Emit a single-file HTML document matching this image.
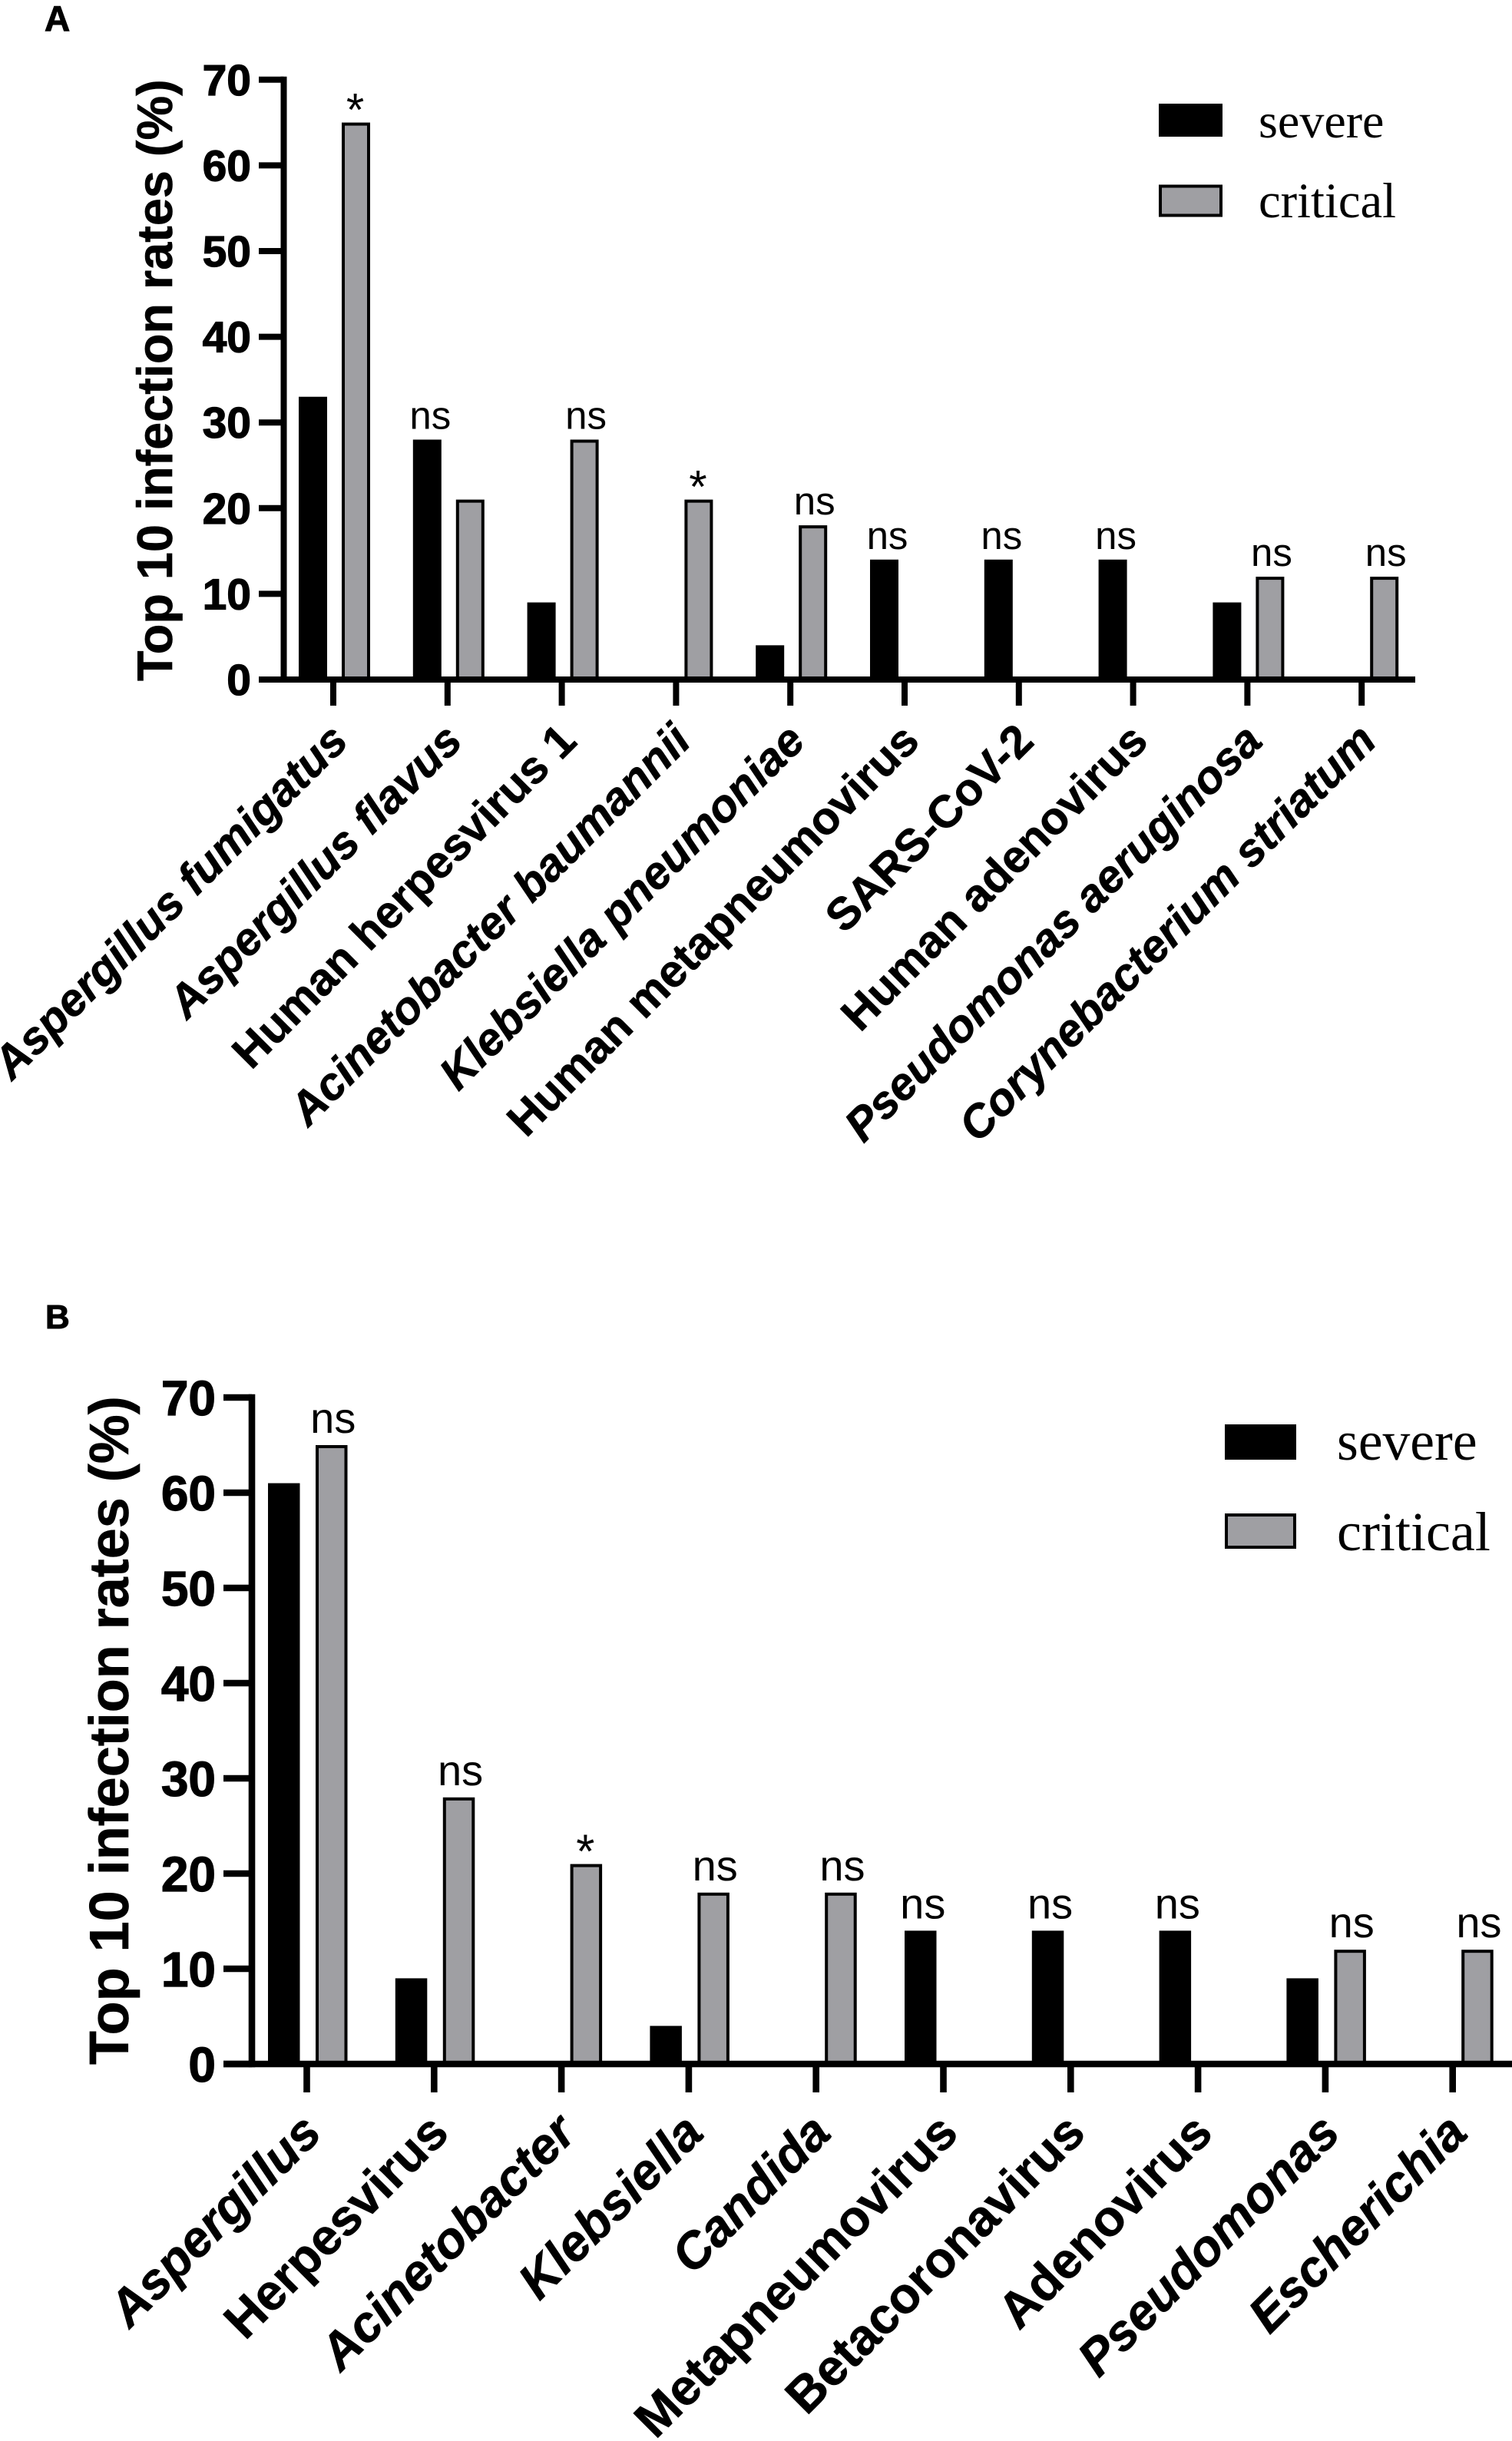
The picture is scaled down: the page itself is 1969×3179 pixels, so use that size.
<!DOCTYPE html>
<html lang="en">
<head>
<meta charset="utf-8">
<title>Top 10 infection rates</title>
<style>
html,body{margin:0;padding:0;background:#fff;}
svg{display:block;}
text{font-family:"Liberation Sans",sans-serif;fill:#000;}
.legend{font-family:"Liberation Serif",serif;}
</style>
</head>
<body>
<svg id="figure" xmlns="http://www.w3.org/2000/svg" width="1969" height="3179" viewBox="0 0 1969 3179">
  <rect width="1969" height="3179" fill="#fff"/>

  <text x="58" y="40" font-size="46" font-weight="bold" stroke="#000" stroke-width="1">A</text>
  <text x="59" y="1730" font-size="44" font-weight="bold" stroke="#000" stroke-width="1">B</text>

  <text transform="translate(224 887) rotate(-90)" font-size="64.8" font-weight="bold" stroke="#000" stroke-width="0.6">Top 10 infection rates (%)</text>
  <text transform="translate(167 2689) rotate(-90)" font-size="72" font-weight="bold" stroke="#000" stroke-width="0.6">Top 10 infection rates (%)</text>

  <g>
    <rect x="1509" y="135" width="83" height="43" fill="#000"/>
    <text class="legend" x="1639" y="179" font-size="64">severe</text>
    <rect x="1511" y="242.5" width="79" height="38" fill="#9f9fa3" stroke="#000" stroke-width="4"/>
    <text class="legend" x="1639" y="283" font-size="64.5">critical</text>
  </g>
  <g>
    <rect x="1595" y="1855" width="93" height="46" fill="#000"/>
    <text class="legend" x="1741" y="1901" font-size="71.5">severe</text>
    <rect x="1597" y="1973" width="89" height="42" fill="#9f9fa3" stroke="#000" stroke-width="4"/>
    <text class="legend" x="1741" y="2019" font-size="72">critical</text>
  </g>
</svg>
<script>
const yTicks = [0, 10, 20, 30, 40, 50, 60, 70];

const categoriesA = ["Aspergillus fumigatus", "Aspergillus flavus", "Human herpesvirus 1", "Acinetobacter baumannii", "Klebsiella pneumoniae", "Human metapneumovirus", "SARS-CoV-2", "Human adenovirus", "Pseudomonas aeruginosa", "Corynebacterium striatum"];
const italicA = [true, true, false, true, true, false, false, false, true, true];
const severeA = [33, 28, 9, 0, 4, 14, 14, 14, 9, 0];
const criticalA = [65, 21, 28, 21, 18, 0, 0, 0, 12, 12];
const significanceA = ["*", "ns", "ns", "*", "ns", "ns", "ns", "ns", "ns", "ns"];

const categoriesB = ["Aspergillus", "Herpesvirus", "Acinetobacter", "Klebsiella", "Candida", "Metapneumovirus", "Betacoronavirus", "Adenovirus", "Pseudomonas", "Escherichia"];
const italicB = [true, false, true, true, true, false, false, false, true, true];
const severeB = [61, 9, 0, 4, 0, 14, 14, 14, 9, 0];
const criticalB = [65, 28, 21, 18, 18, 0, 0, 0, 12, 12];
const significanceB = ["ns", "ns", "*", "ns", "ns", "ns", "ns", "ns", "ns", "ns"];

const SVG_NS = "http://www.w3.org/2000/svg";
const figure = document.getElementById("figure");

function makeSvg(tag, attrs, parent) {
  const el = document.createElementNS(SVG_NS, tag);
  for (const k in attrs) el.setAttribute(k, attrs[k]);
  parent.appendChild(el);
  return el;
}

function drawPanel(p, categories, italics, severe, critical, significance) {
  const yScale = v => p.y0 - v * p.unit;
  const xScale = i => p.x0 + i * p.step;

  const group = makeSvg("g", {}, figure);
  
  

  severe.forEach((v, i) => {
    const bar = makeSvg("rect", {
      x: xScale(i) + p.sevLeft, y: yScale(v), width: p.barW,
      height: Math.max(0, p.y0 - yScale(v)), fill: "#000"
    }, group);
    
    
  });

  critical.forEach((v, i) => {
    const bar = makeSvg("rect", {
      x: xScale(i) + p.critLeft + 2, y: yScale(v) + 2, width: p.barW - 4,
      height: Math.max(0, p.y0 - yScale(v) - 2), fill: "#9f9fa3",
      stroke: v > 0 ? "#000" : "none", "stroke-width": 4
    }, group);
    
    
  });

  const yAxis = makeSvg("line", {
    x1: p.axisX, x2: p.axisX, y1: yScale(70) - p.lineW / 2, y2: p.y0 + p.lineW / 2,
    stroke: "#000", "stroke-width": p.lineW
  }, group);
  
  

  const xAxis = makeSvg("line", {
    x1: p.tickLeft, x2: p.axisEnd, y1: p.y0, y2: p.y0,
    stroke: "#000", "stroke-width": p.lineW
  }, group);
  
  

  yTicks.forEach(v => {
    const tick = makeSvg("line", {
      x1: p.tickLeft, x2: p.axisX, y1: yScale(v), y2: yScale(v),
      stroke: "#000", "stroke-width": p.lineW
    }, group);
    
    

    const label = makeSvg("text", {
      x: p.yLabelRight, y: yScale(v) + p.yLabelDy, "text-anchor": "end",
      "font-size": p.yLabelSize, "font-weight": "bold",
      stroke: "#000", "stroke-width": 1.2
    }, group);
    label.textContent = v;
    
    
  });

  categories.forEach((name, i) => {
    const tick = makeSvg("line", {
      x1: xScale(i), x2: xScale(i), y1: p.y0, y2: p.xTickEnd,
      stroke: "#000", "stroke-width": p.lineW
    }, group);
    
    

    const label = makeSvg("text", {
      transform: "translate(" + (xScale(i) + p.xLabelDx) + " " + p.xLabelY + ") rotate(-45)",
      "text-anchor": "end", "font-size": p.xLabelSize, "font-weight": "bold",
      "font-style": italics[i] ? "italic" : "normal",
      stroke: "#000", "stroke-width": 0.7
    }, group);
    label.textContent = name;
    
    
  });

  significance.forEach((mark, i) => {
    const overCritical = critical[i] >= severe[i];
    const top = Math.max(critical[i], severe[i]);
    const left = xScale(i) + (overCritical ? p.critLeft : p.sevLeft);
    const isStar = mark === "*";
    const shift = isStar ? -1 : (overCritical ? 2 : p.nsSevShift);
    const note = makeSvg("text", {
      x: left + p.barW / 2 + shift,
      y: yScale(top) + (isStar ? p.starDy : -p.nsGap),
      "text-anchor": "middle", "font-size": isStar ? p.starSize : p.nsSize
    }, group);
    note.textContent = mark;
    
    
  });
}

drawPanel({
  name: "panel-a", x0: 434, step: 148.8, y0: 885, unit: 11.16, lineW: 8,
  axisX: 369.5, tickLeft: 337, axisEnd: 1843, xTickEnd: 919,
  sevLeft: -45, critLeft: 11, barW: 37,
  yLabelRight: 327, yLabelDy: 20, yLabelSize: 57,
  xLabelDx: 22, xLabelY: 968, xLabelSize: 59.3,
  nsGap: 14, nsSize: 51, nsSevShift: 4, starSize: 60, starDy: 4
}, categoriesA, italicA, severeA, criticalA, significanceA);

drawPanel({
  name: "panel-b", x0: 399.5, step: 165.8, y0: 2688, unit: 12.4, lineW: 8.6,
  axisX: 328, tickLeft: 291, axisEnd: 1969, xTickEnd: 2725,
  sevLeft: -50.5, critLeft: 11.5, barW: 41.5,
  yLabelRight: 281, yLabelDy: 23, yLabelSize: 64,
  xLabelDx: 22, xLabelY: 2781, xLabelSize: 65.6,
  nsGap: 16, nsSize: 56, nsSevShift: 3, starSize: 62, starDy: 5
}, categoriesB, italicB, severeB, criticalB, significanceB);
</script>
</body>
</html>
